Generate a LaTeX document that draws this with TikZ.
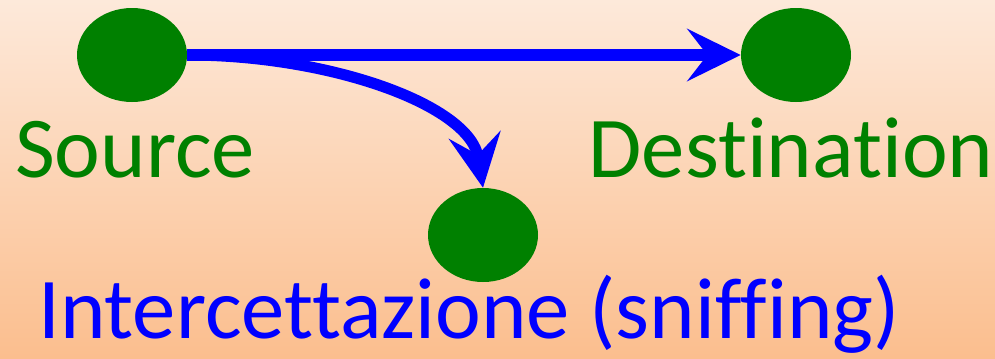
\documentclass[tikz,border=0pt]{standalone}
\usepackage{fontspec}
\setmainfont[Ligatures=NoCommon]{Carlito}
\usetikzlibrary{shapes.geometric,arrows.meta}
\definecolor{nodegreen}{HTML}{008000}
\definecolor{bgtop}{HTML}{FDE9DA}
\definecolor{bgbottom}{HTML}{FBBE8E}
\begin{document}
\begin{tikzpicture}[
    x=0.75pt, y=-0.75pt,
    hostnode/.style={ellipse, fill=nodegreen, draw=none, minimum width=82.5pt, minimum height=70.5pt, inner sep=0pt},
    hostlabel/.style={text=nodegreen, font=\fontsize{65}{70}\selectfont, anchor=base, inner sep=0pt},
    attacklabel/.style={text=blue, font=\fontsize{65}{70}\selectfont, anchor=base, inner sep=0pt},
    dataarrow/.style={-{Stealth[length=40pt, width=39pt, inset=15pt]}, blue, line width=8.3pt},
]
% Background
\shade[top color=bgtop, bottom color=bgbottom] (0,0) rectangle (995,358);
\useasboundingbox (0,0) rectangle (995,358);

% Hosts
\node[hostnode] (src) at (132,55) {};
\node[hostnode] (dst) at (796,55) {};
\node[hostnode] (spy) at (483,235) {};

% Labels
\node[hostlabel] (srclbl) at (135,177) {Source};
\node[hostlabel] (dstlbl) at (791,177) {Destination};
\node[attacklabel] (spylbl) at (469,338) {Intercettazione (sniffing)};

% Traffic
\draw[dataarrow] (src.east) -- (dst.west);
\draw[dataarrow] (src.east) .. controls (330,55) and (470,105) .. (spy.north);
\end{tikzpicture}
\end{document}
